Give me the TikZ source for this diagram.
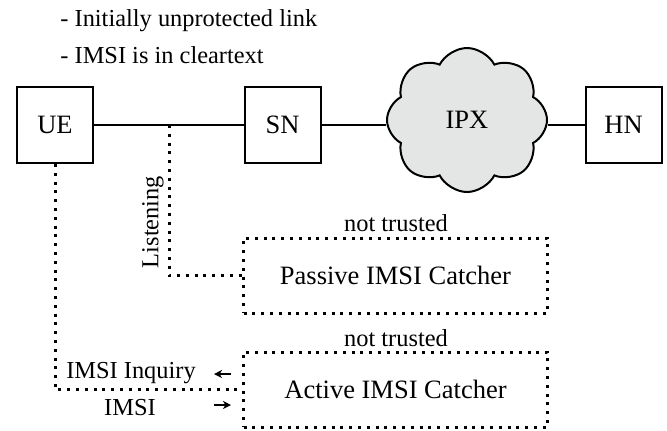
\documentclass[tikz,border=0pt]{standalone}
\usepackage{fontspec}
\setmainfont{Liberation Serif}
\usetikzlibrary{shapes.symbols,arrows.meta}
\definecolor{cloudgray}{RGB}{228,230,230}

\begin{document}
\begin{tikzpicture}[x=0.5pt,y=-0.5pt,
	box/.style={draw, line width=1pt, minimum width=38pt, minimum height=38pt, inner sep=0pt, font=\fontsize{13.25}{16}\selectfont},
	catcher/.style={draw, line width=1.5pt, dash pattern=on 1.5pt off 2.9pt, minimum width=152pt, minimum height=37.5pt, inner sep=0pt, font=\fontsize{13.25}{16}\selectfont},
	lbl/.style={inner sep=0pt, font=\fontsize{12.2}{14}\selectfont},
	dots/.style={line width=1.5pt, dash pattern=on 1.5pt off 2.9pt},
	arr/.style={line width=0.8pt, -{Stealth[length=4pt,width=4pt,inset=1.2pt]}}]
\useasboundingbox (0,0) rectangle (667,430);

\node [lbl, anchor=base west] (note1) at (60,26) {- Initially unprotected link};
\node [lbl, anchor=base west] (note2) at (60,63) {- IMSI is in cleartext};

\node [box] (ue) at (55,125) {UE};
\node [box] (sn) at (282.5,125) {SN};
\node [box] (hn) at (623.5,125) {HN};
\node [cloud, draw, line width=1pt, fill=cloudgray, cloud puffs=8, cloud puff arc=125, cloud ignores aspect,
		minimum width=80pt, minimum height=72pt, inner sep=0pt, font=\fontsize{13.25}{16}\selectfont]
		(ipx) at (467,120) {IPX};

\draw [line width=1pt] (ue) -- (sn);
\draw [line width=1pt] (sn.east) -- (sn.east -| ipx.west);
\draw [line width=1pt] (ipx.east |- hn.west) -- (hn.west);

\node [catcher] (passive) at (395.5,275.5) {Passive IMSI Catcher};
\node [catcher] (active) at (395.5,389.5) {Active IMSI Catcher};
\node [lbl] (trust1) at (396,223) {not trusted};
\node [lbl] (trust2) at (396,338) {not trusted};

\coordinate (tap) at (169,125);
\draw [dots] (tap) |- (passive.west);
\node [lbl, rotate=90] (listen) at (153,222) {Listening};

\draw [dots] (ue.south) |- (active.west);
\node [lbl] (inquiry) at (131,373) {IMSI Inquiry};
\node [lbl] (imsi) at (130,408) {IMSI};

\coordinate (inqfrom) at (231,374);
\coordinate (inqto) at (214,374);
\coordinate (imsifrom) at (214,405);
\coordinate (imsito) at (231,405);
\draw [arr] (inqfrom) -- (inqto);
\draw [arr] (imsifrom) -- (imsito);

\end{tikzpicture}
\end{document}
